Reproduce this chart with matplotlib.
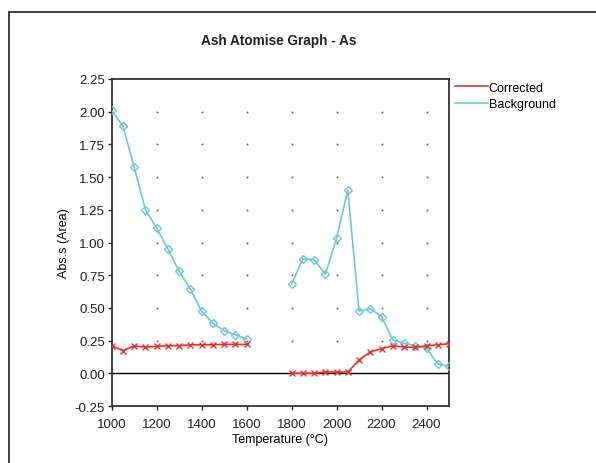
import matplotlib
matplotlib.use("Agg")
import matplotlib.pyplot as plt
import matplotlib.patches as patches
import numpy as np

plt.rcParams['font.family'] = ['Liberation Sans', 'DejaVu Sans']

# Data
bg_x1 = [1000, 1050, 1100, 1150, 1200, 1250, 1300, 1350, 1400, 1450, 1500, 1550, 1600]
bg_y1 = [2.01, 1.89, 1.575, 1.25, 1.11, 0.95, 0.78, 0.642, 0.474, 0.382, 0.326, 0.295, 0.262]
bg_x2 = [1800, 1850, 1900, 1950, 2000, 2050, 2100, 2150, 2200, 2250, 2300, 2350, 2400, 2450, 2500]
bg_y2 = [0.683, 0.874, 0.869, 0.757, 1.032, 1.40, 0.476, 0.494, 0.433, 0.255, 0.229, 0.211, 0.191, 0.071, 0.053]

co_x1 = [1000, 1050, 1100, 1150, 1200, 1250, 1300, 1350, 1400, 1450, 1500, 1550, 1600]
co_y1 = [0.211, 0.173, 0.209, 0.201, 0.206, 0.211, 0.211, 0.218, 0.218, 0.218, 0.221, 0.221, 0.221]
co_x2 = [1800, 1850, 1900, 1950, 2000, 2050, 2100, 2150, 2200, 2250, 2300, 2350, 2400, 2450, 2500]
co_y2 = [0.0, 0.0, 0.0, 0.01, 0.01, 0.01, 0.102, 0.163, 0.188, 0.211, 0.201, 0.198, 0.211, 0.218, 0.226]

x_ticks = [1000, 1200, 1400, 1600, 1800, 2000, 2200, 2400]
y_ticks = [-0.25, 0.0, 0.25, 0.5, 0.75, 1.0, 1.25, 1.5, 1.75, 2.0, 2.25]

red = '#E8312F'
cyan = '#6EC6D8'

fig = plt.figure(figsize=(5.96, 4.64), dpi=100)
W, H = 596, 464
ax = fig.add_axes([111.7 / W, 1 - 407 / H, (449 - 111.7) / W, (407 - 80) / H])

# outer frame
fig.patches.append(patches.Rectangle((8.5 / W, -0.05), 1.2, 1 - 12.5 / H + 0.05,
                                     transform=fig.transFigure, fill=False,
                                     edgecolor='#333333', lw=1.3))

# grid dots at intersections
gx = [t for t in x_ticks if t > 1000]
gy = [t for t in y_ticks if 0 < t < 2.25]
GX, GY = np.meshgrid(gx, gy)
ax.plot(GX.ravel(), GY.ravel(), linestyle='none', marker='s', markersize=1.2,
        mew=0, color='#555555', zorder=1)

ax.axhline(0, color='black', lw=1.0, zorder=2)

ax.plot(co_x1, co_y1, color=red, lw=1.2, marker='x', markersize=5, mew=1.0, zorder=4,
        label='Corrected')
ax.plot(co_x2, co_y2, color=red, lw=1.2, marker='x', markersize=5, mew=1.0, zorder=4)
ax.plot(bg_x1, bg_y1, color=cyan, lw=1.2, marker='D', markersize=4.5, mfc='none',
        mew=1.0, zorder=3, label='Background')
ax.plot(bg_x2, bg_y2, color=cyan, lw=1.2, marker='D', markersize=4.5, mfc='none',
        mew=1.0, zorder=3)

ax.set_xlim(1000, 2500)
ax.set_ylim(-0.25, 2.25)
ax.set_xticks(x_ticks)
ax.set_yticks(y_ticks)
ax.set_yticklabels([f'{v:.2f}' for v in y_ticks])
ax.tick_params(direction='out', length=3, width=1, labelsize=9.5, colors='#222222',
               pad=2)
ax.tick_params(axis='x', pad=6)
for s in ax.spines.values():
    s.set_color('#333333')
    s.set_linewidth(1.3)

ax.set_xlabel('Temperature (°C)', fontsize=9, labelpad=2)
ax.set_ylabel('Abs.s (Area)', fontsize=9, labelpad=3)

fig.text(279 / W, 1 - 41 / H, 'Ash Atomise Graph - As', ha='center', va='center',
         fontsize=9.8, fontweight='bold', color='#222222')

ax.legend(loc='upper left', bbox_to_anchor=(455 / W, 1 - 82.5 / H),
          bbox_transform=fig.transFigure, frameon=False, fontsize=9,
          handlelength=2.6, handletextpad=0.1, borderaxespad=0.0, labelspacing=0.35,
          borderpad=0.0)
leg = ax.get_legend()
for h in leg.legend_handles:
    h.set_marker('')

fig.savefig('out.png', dpi=100)
